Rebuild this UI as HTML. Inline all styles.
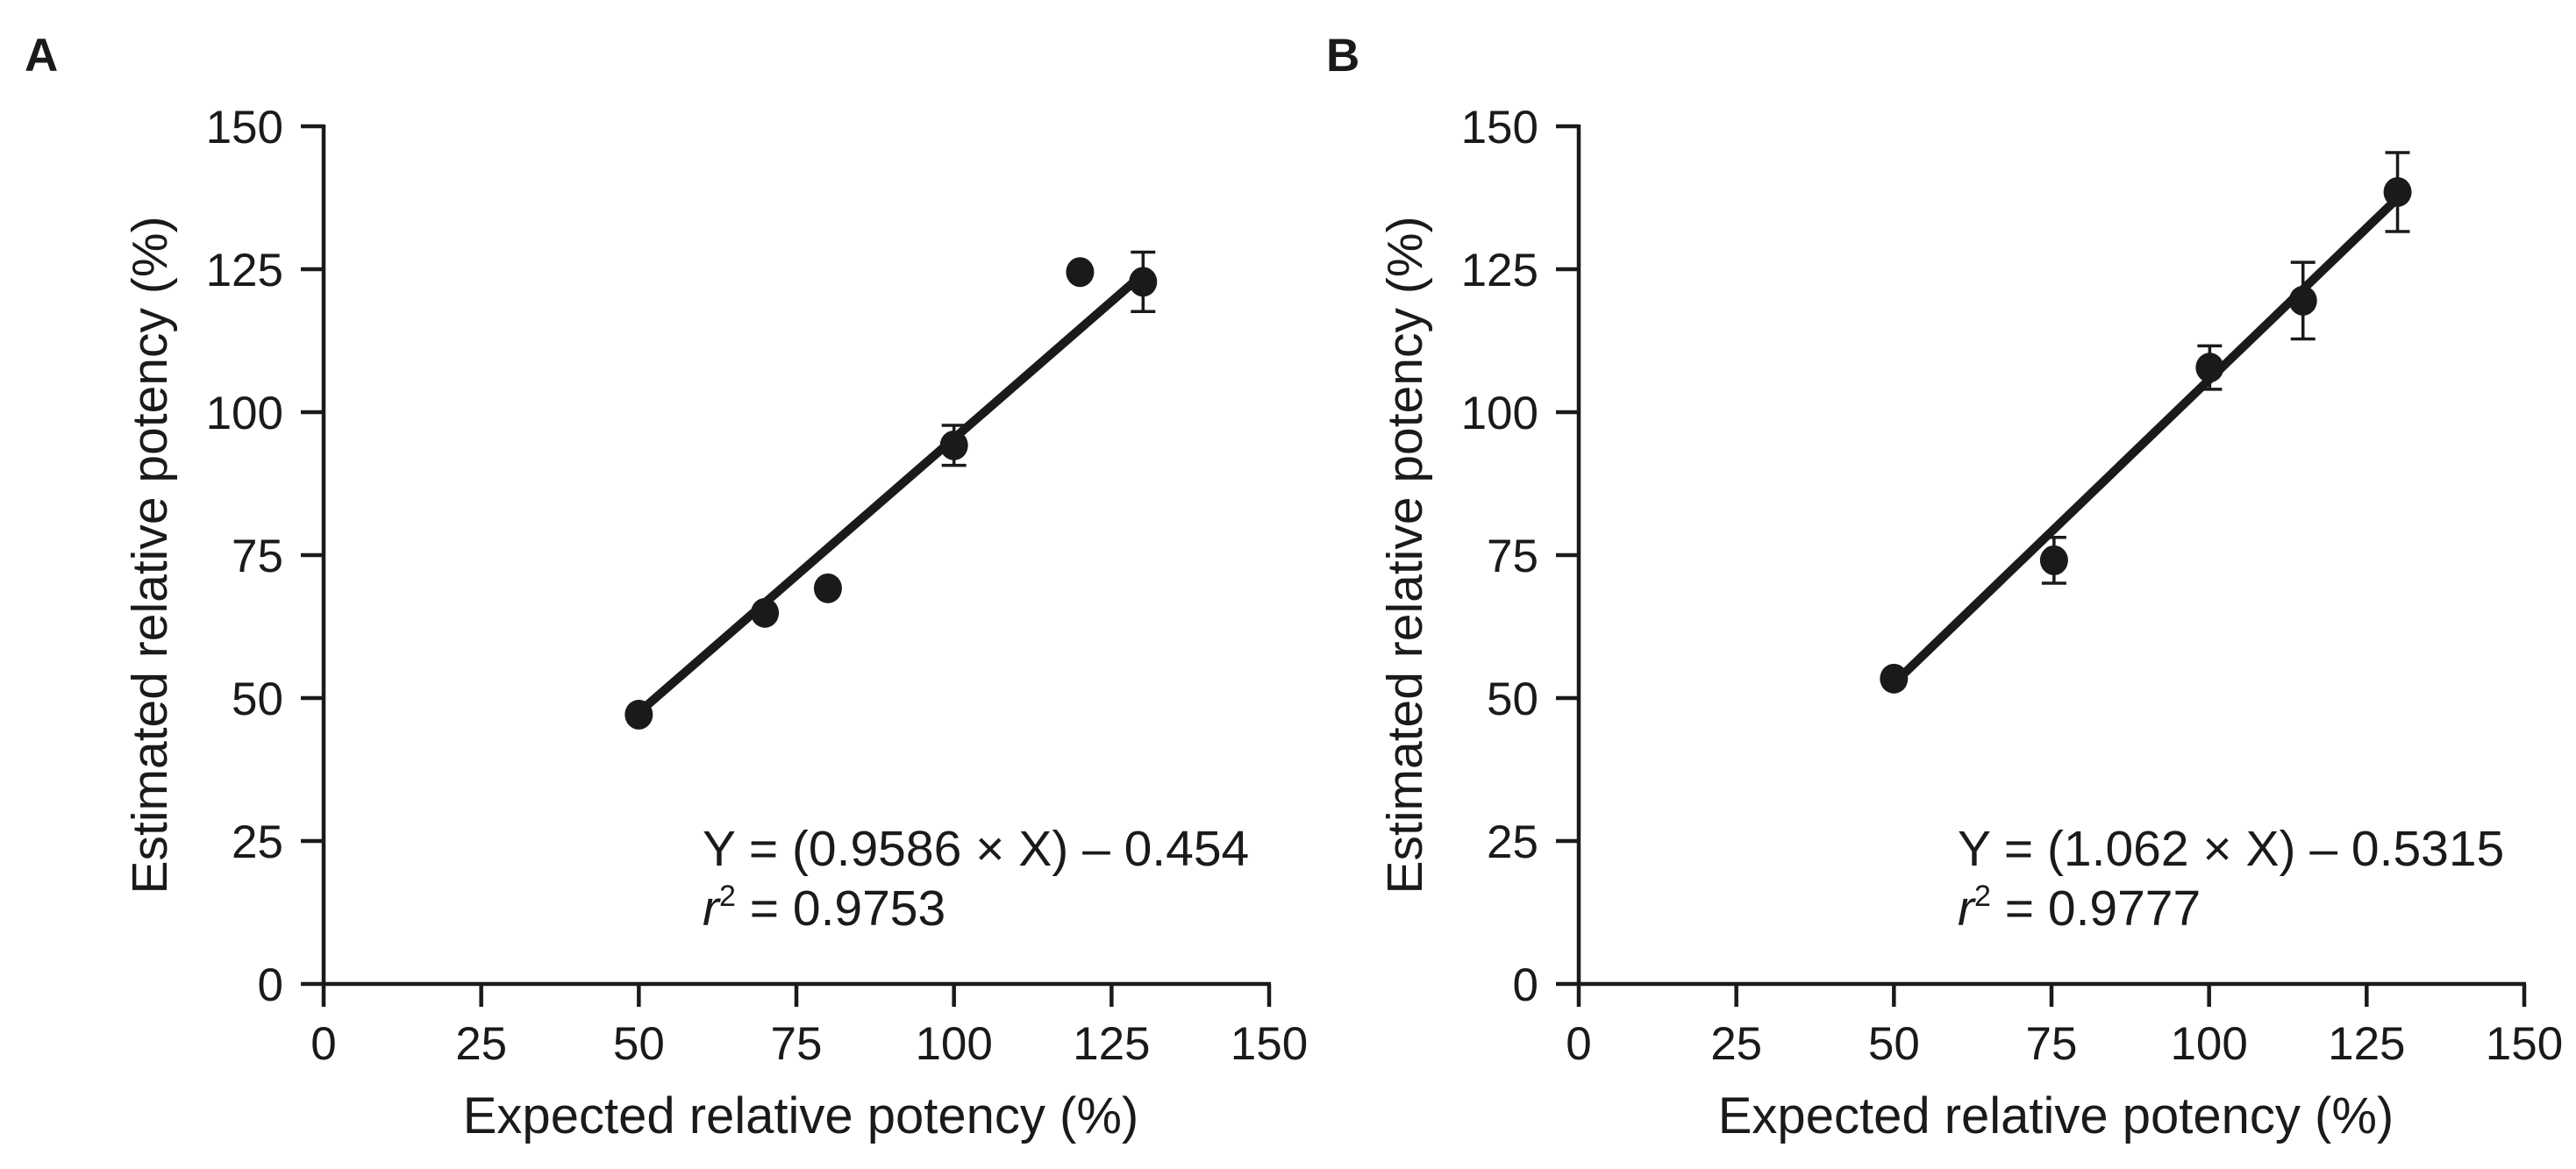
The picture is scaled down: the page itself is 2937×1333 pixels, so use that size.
<!DOCTYPE html>
<html><head><meta charset="utf-8"><style>
html,body{margin:0;padding:0;background:#fff;}
svg{display:block;font-family:"Liberation Sans",Arial,sans-serif;}
</style></head><body>
<svg id="fig" width="2937" height="1333" viewBox="0 0 2937 1333">
<text x="28" y="81" font-size="53" font-weight="bold" fill="#1a1a1a">A</text>
<text x="1512" y="81" font-size="53" font-weight="bold" fill="#1a1a1a">B</text>
<g id="panelA"></g>
<g id="panelB"></g>
</svg>
<script>
// Panel A data
const aX = [50, 70, 80, 100, 120, 130];
const aY = [47.1, 64.9, 69.2, 94.2, 124.5, 122.8];
const aErr = [0, 0, 0, 3.5, 0, 5.2];
const aSlope = 0.9586, aIntercept = -0.454;
// Panel B data
const bX = [50, 75.4, 100.1, 114.9, 129.9];
const bY = [53.4, 74.1, 107.8, 119.5, 138.5];
const bErr = [0, 4.0, 3.8, 6.7, 6.9];
const bSlope = 1.062, bIntercept = -0.5315;
const ticks = [0, 25, 50, 75, 100, 125, 150];
const tickLabels = ["0", "25", "50", "75", "100", "125", "150"];

const NS = "http://www.w3.org/2000/svg";
const C = "#1a1a1a";
function mk(tag, attrs, parent) {
  const e = document.createElementNS(NS, tag);
  for (const k in attrs) e.setAttribute(k, attrs[k]);
  parent.appendChild(e);
  return e;
}
function drawPanel(g, ox, xs, ys, errs, slope, intercept, eq1, eq2r) {
  const x0 = ox, x1 = ox + 1078, y0 = 1122, y1 = 144;
  const sx = v => x0 + (v / 150) * (x1 - x0);
  const sy = v => y0 - (v / 150) * (y0 - y1);
  let e;
  e = mk("line", {x1: x0, y1: y0 + 2, x2: x0, y2: y1 - 2, stroke: C, "stroke-width": 4.5}, g);
  
  
  e = mk("line", {x1: x0 - 2, y1: y0, x2: x1 + 2, y2: y0, stroke: C, "stroke-width": 4.5}, g);
  
  
  ticks.forEach((t, i) => {
    e = mk("line", {x1: x0 - 26, y1: sy(t), x2: x0, y2: sy(t), stroke: C, "stroke-width": 4.5}, g);
    
    
    e = mk("text", {x: x0 - 46, y: sy(t) + 19, "font-size": 53, "text-anchor": "end", fill: C}, g);
    e.textContent = tickLabels[i];
    
    
    e = mk("line", {x1: sx(t), y1: y0, x2: sx(t), y2: y0 + 26, stroke: C, "stroke-width": 4.5}, g);
    
    
    e = mk("text", {x: sx(t), y: 1208, "font-size": 53, "text-anchor": "middle", fill: C}, g);
    e.textContent = tickLabels[i];
    
    
  });
  e = mk("text", {x: (x0 + x1) / 2 + 5, y: 1292, "font-size": 58, "text-anchor": "middle", fill: C}, g);
  e.textContent = "Expected relative potency (%)";
  
  
  const ty = 633, tx = ox - 179;
  e = mk("text", {x: tx, y: ty, "font-size": 57, "text-anchor": "middle", fill: C, transform: `rotate(-90 ${tx} ${ty})`}, g);
  e.textContent = "Estimated relative potency (%)";
  
  
  const xmin = Math.min(...xs), xmax = Math.max(...xs);
  e = mk("line", {x1: sx(xmin), y1: sy(slope * xmin + intercept), x2: sx(xmax), y2: sy(slope * xmax + intercept), stroke: C, "stroke-width": 10}, g);
  
  
  xs.forEach((x, i) => {
    if (errs[i] > 0) {
      const cx = sx(x), t = sy(ys[i] + errs[i]), b = sy(ys[i] - errs[i]);
      e = mk("path", {d: `M${cx} ${t}V${b}M${cx - 14} ${t}H${cx + 14}M${cx - 14} ${b}H${cx + 14}`, stroke: C, "stroke-width": 3.5, fill: "none"}, g);
      
      
    }
    e = mk("ellipse", {cx: sx(x), cy: sy(ys[i]), rx: 16, ry: 17, fill: C}, g);
    
    
  });
  e = mk("text", {x: ox + 432, y: 987, "font-size": 57, fill: C}, g);
  e.textContent = eq1;
  
  
  e = mk("text", {x: ox + 432, y: 1055, "font-size": 57, fill: C}, g);
  e.innerHTML = '<tspan font-style="italic">r</tspan><tspan font-size="34" dy="-22">2</tspan><tspan dy="22"> = ' + eq2r + '</tspan>';
  
  
}
drawPanel(document.getElementById("panelA"), 369, aX, aY, aErr, aSlope, aIntercept, "Y = (0.9586 × X) – 0.454", "0.9753");
drawPanel(document.getElementById("panelB"), 1800, bX, bY, bErr, bSlope, bIntercept, "Y = (1.062 × X) – 0.5315", "0.9777");
</script>
</body></html>
